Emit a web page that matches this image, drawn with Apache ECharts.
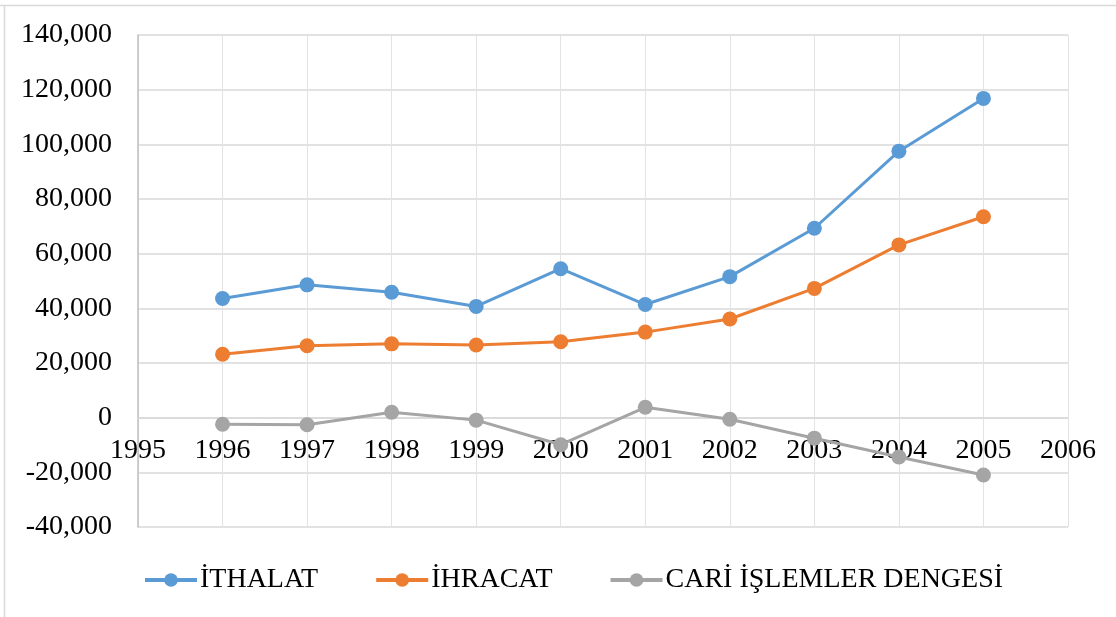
<!DOCTYPE html>
<html>
<head>
<meta charset="utf-8">
<script src="https://cdn.jsdelivr.net/npm/echarts@6/dist/echarts.min.js"></script>
<style>
  html, body { margin: 0; padding: 0; background: #fff; }
  #main { width: 1116px; height: 617px; }
</style>
</head>
<body>
<div id="main"></div>
<script>
// yillar ve seriler (milyon $)
var years = [1996, 1997, 1998, 1999, 2000, 2001, 2002, 2003, 2004, 2005];
var ithalat = [43600, 48600, 45900, 40700, 54500, 41400, 51600, 69300, 97500, 116800];
var ihracat = [23200, 26300, 27000, 26600, 27800, 31300, 36100, 47300, 63200, 73500];
var cariDenge = [-2400, -2600, 2000, -900, -9900, 3800, -600, -7500, -14400, -21000];
var seriesNames = ['İTHALAT', 'İHRACAT', 'CARİ İŞLEMLER DENGESİ'];

var chart = echarts.init(document.getElementById('main'));

function pairs(vals) {
  return years.map(function (y, i) { return [y, vals[i]]; });
}

var font = '"Liberation Serif", "Times New Roman", serif';

function line(name, vals, color) {
  return {
    name: name,
    type: 'line',
    data: pairs(vals),
    symbol: 'circle',
    symbolSize: 15,
    lineStyle: { width: 3, color: color },
    itemStyle: { color: color },
    emphasis: { disabled: true }
  };
}

var option = {
  animation: false,
  color: ['#5B9BD5', '#ED7D31', '#A5A5A5'],
  graphic: [
    { type: 'line', shape: { x1: 0, y1: 5.5, x2: 1116, y2: 5.5 }, style: { stroke: '#d9d9d9', lineWidth: 1.5 } },
    { type: 'line', shape: { x1: 4.5, y1: 5, x2: 4.5, y2: 617 }, style: { stroke: '#d9d9d9', lineWidth: 1.5 } }
  ],
  grid: {
    left: 138,
    right: 48,
    top: 35,
    bottom: 90
  },
  legend: {
    top: 561,
    left: 138,
    itemWidth: 52,
    itemHeight: 17,
    itemGap: 56,
    lineStyle: { width: 4 },
    textStyle: { fontFamily: font, fontSize: 28, color: '#000', padding: [0, 0, 0, -2] },
    data: seriesNames
  },
  xAxis: {
    type: 'value',
    min: 1995,
    max: 2006,
    interval: 1,
    offset: -109,
    axisLine: { onZero: false, lineStyle: { color: '#d9d9d9', width: 1.5 } },
    axisTick: { show: false },
    splitLine: { show: true, lineStyle: { color: '#e3e3e3', width: 1 } },
    axisLabel: {
      fontFamily: font,
      fontSize: 28,
      color: '#000',
      margin: 19,
      formatter: function (v) { return String(v); }
    }
  },
  yAxis: {
    type: 'value',
    min: -40000,
    max: 140000,
    interval: 20000,
    axisLine: { show: true, lineStyle: { color: '#bfbfbf', width: 1.5 } },
    axisTick: { show: false },
    splitLine: { lineStyle: { color: '#d9d9d9', width: 1.5 } },
    axisLabel: {
      fontFamily: font,
      fontSize: 28,
      color: '#000',
      margin: 26,
      formatter: function (v) {
        return v.toLocaleString('en-US');
      }
    }
  },
  series: [
    line(seriesNames[0], ithalat, '#5B9BD5'),
    line(seriesNames[1], ihracat, '#ED7D31'),
    line(seriesNames[2], cariDenge, '#A5A5A5')
  ]
};

chart.setOption(option);
</script>
</body>
</html>
